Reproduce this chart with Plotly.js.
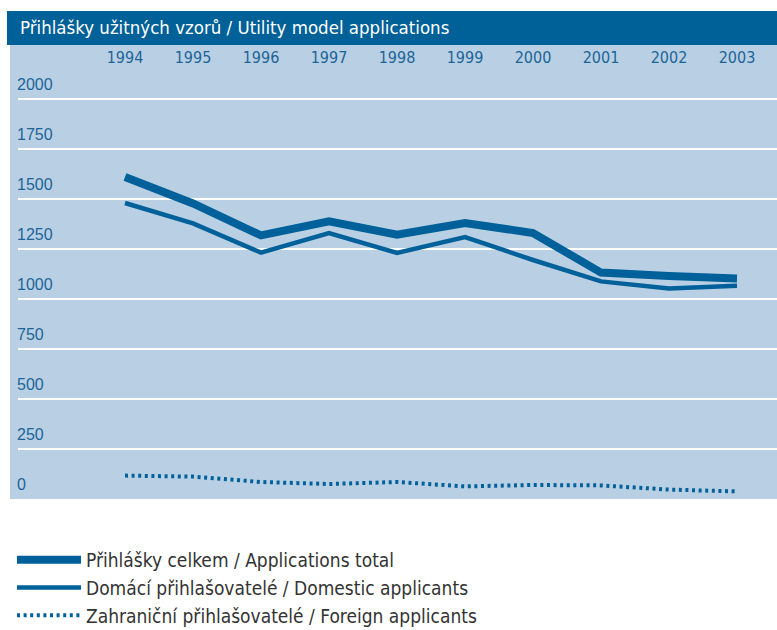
<!DOCTYPE html>
<html>
<head>
<meta charset="utf-8">
<script src="https://cdn.plot.ly/plotly-3.0.1.min.js"></script>
<style>html,body{margin:0;padding:0;background:#fff;}#chart{width:777px;height:630px;}</style>
</head>
<body>
<div id="chart"></div>
<script>
// Data
var years = [1994, 1995, 1996, 1997, 1998, 1999, 2000, 2001, 2002, 2003];
var totalApps = [1610, 1478, 1318, 1388, 1322, 1380, 1330, 1132, 1115, 1103];
var domesticApps = [1480, 1378, 1232, 1330, 1230, 1310, 1195, 1088, 1052, 1066];
var foreignApps = [117, 112, 85, 75, 85, 63, 70, 68, 47, 38];
var yTicks = [0, 250, 500, 750, 1000, 1250, 1500, 1750, 2000];
var seriesNames = [
  'Přihlášky celkem / Applications total',
  'Domácí přihlašovatelé / Domestic applicants',
  'Zahraniční přihlašovatelé / Foreign applicants'
];
var chartTitle = 'Přihlášky užitných vzorů / Utility model applications';

var W = 777, H = 630;
var mL = 18, mR = 0, mT = 45, mB = 131;
var plotW = W - mL - mR, plotH = H - mT - mB;
function px2paperX(p){ return (p - mL) / plotW; }
function px2paperY(p){ return (H - mB - p) / plotH; }

var blue = '#00619a';
var narrow = '"Liberation Sans Narrow", "DejaVu Sans Condensed", "Arial Narrow", sans-serif';

var traces = [
  {x: years, y: totalApps, name: seriesNames[0], type: 'scatter', mode: 'lines',
   line: {color: blue, width: 8}},
  {x: years, y: domesticApps, name: seriesNames[1], type: 'scatter', mode: 'lines',
   line: {color: blue, width: 4.5}},
  {x: years, y: foreignApps, name: seriesNames[2], type: 'scatter', mode: 'lines',
   line: {color: blue, width: 4, dash: '3px,3.6px'}}
];

var layout = {
  width: W, height: H,
  margin: {l: mL, r: mR, t: mT, b: mB, pad: 0, autoexpand: false},
  paper_bgcolor: '#ffffff',
  plot_bgcolor: '#b9d0e4',
  showlegend: true,
  title: {
    text: chartTitle,
    font: {family: narrow, size: 18.5, color: '#ffffff'},
    xref: 'container', x: 20 / W, xanchor: 'left',
    yref: 'container', y: 1 - 28 / H, yanchor: 'middle',
    automargin: false
  },
  xaxis: {
    range: [1994 - 107 / 68, 2003 + 40 / 68],
    side: 'top',
    tickvals: years,
    ticktext: years.map(String),
    ticklabelposition: 'inside',
    ticklabelstandoff: 4,
    tickangle: 0,
    ticks: '',
    showgrid: false, zeroline: false, showline: false,
    tickfont: {family: narrow, size: 16, color: '#1c6498'},
    automargin: false,
    fixedrange: true
  },
  yaxis: {
    range: [0, 2270],
    tickvals: yTicks,
    ticktext: yTicks.map(String),
    ticklabelposition: 'inside top',
    ticklabelstandoff: -4,
    ticklabelshift: -3,
    ticks: '',
    showgrid: true, gridcolor: '#ffffff', gridwidth: 2,
    zeroline: false, showline: false,
    tickfont: {family: '"Liberation Sans", Arial, sans-serif', size: 16, color: '#1c6498'},
    automargin: false,
    fixedrange: true
  },
  legend: {
    xref: 'container', yref: 'container',
    x: 12 / W, y: 1 - 541 / H, xanchor: 'left', yanchor: 'top',
    bgcolor: 'rgba(0,0,0,0)',
    itemwidth: 64,
    font: {family: narrow, size: 19, color: '#333333'},
    tracegroupgap: 0
  },
  shapes: [
    {type: 'rect', xref: 'paper', yref: 'paper', layer: 'below',
     x0: px2paperX(10), x1: 0, y0: 0, y1: 1,
     fillcolor: '#b9d0e4', line: {width: 0}},
    {type: 'rect', xref: 'paper', yref: 'paper', layer: 'below',
     x0: px2paperX(7), x1: 1, y0: 1, y1: px2paperY(11),
     fillcolor: '#006098', line: {width: 0}}
  ]
};

Plotly.newPlot('chart', traces, layout, {displayModeBar: false, staticPlot: true});
</script>
</body>
</html>
